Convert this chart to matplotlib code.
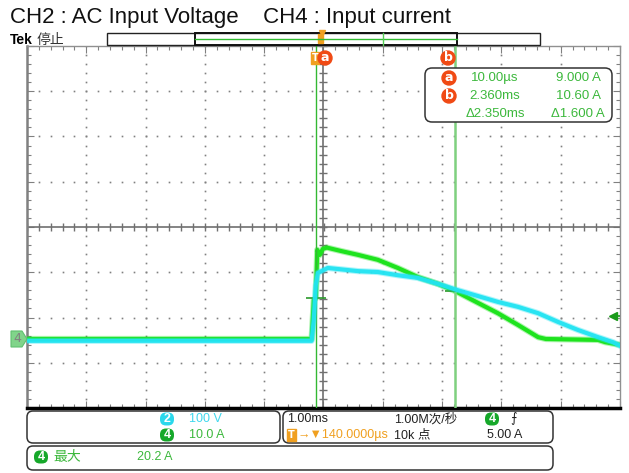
import matplotlib.pyplot as plt
from matplotlib.patches import FancyBboxPatch, Circle, Rectangle, Polygon
from matplotlib.transforms import blended_transform_factory
import numpy as np

# CH4 input current (ms, A)
t_ch4 = [-4.86, -0.06, -0.024, 0.01, 0.035, 0.078, 0.128, 0.196, 0.45, 0.72, 1.056,
         1.393, 1.73, 2.067, 2.36, 2.742, 3.08, 3.42, 3.76, 3.89, 4.77, 4.89, 5.14]
i_ch4 = [0.0, 0.0, 8.6, 9.0, 19.7, 18.6, 19.9, 20.2, 19.4, 18.6, 17.5,
         15.7, 13.7, 12.2, 10.6, 8.0, 5.7, 3.1, 0.4, 0.0, -0.2, -0.7, -1.3]

# CH2 AC input voltage (ms, V)
t_ch2 = [-4.86, -0.06, -0.024, 0.01, 0.044, 0.212, 0.72, 1.056, 1.393, 1.73,
         2.067, 2.40, 2.742, 3.08, 3.42, 3.76, 4.09, 4.43, 4.77, 5.02, 5.14]
v_ch2 = [-4, -4, 42, 119, 146, 157, 150, 148, 141, 135,
         122, 108, 95, 82, 71, 57, 38, 20, 4, -7, -15]

ch4_scale = 10.0   # A/div
ch2_scale = 100.0  # V/div
time_div = 1.0     # ms/div
t_center = 0.14    # ms (trigger position)
ground_div = -2.475
cursor_t = [0.01, 2.36]
cursor_i = [9.0, 10.6]
trig_level = 5.0
max_i = 20.2

W, H = 629, 473
L, R, T, B = 27, 620, 46, 408
fig = plt.figure(figsize=(W / 100, H / 100), dpi=100)
fig.patch.set_facecolor('white')

ax = fig.add_axes([L / W, 1 - B / H, (R - L) / W, (B - T) / H])
x0, x1 = t_center - 5 * time_div, t_center + 5 * time_div
y0, y1 = (-4 - ground_div) * ch4_scale, (4 - ground_div) * ch4_scale
ax.set_xlim(x0, x1)
ax.set_ylim(y0, y1)
ax2 = ax.twinx()
ax2.set_ylim(y0 / ch4_scale * ch2_scale, y1 / ch4_scale * ch2_scale)
ax2.axis('off')

# graticule
gcol = '#808080'
for k in range(1, 10):
    if k == 5:
        continue
    xs = x0 + k * time_div
    ys = np.arange(y0, y1 + 0.01, ch4_scale / 5)
    ax.plot([xs] * len(ys), ys, ls='none', marker='s', ms=1.2, color=gcol, mew=0)
for j in range(1, 8):
    if j == 4:
        continue
    ys = y0 + j * ch4_scale
    xs = np.arange(x0, x1 + 0.001, time_div / 5)
    ax.plot(xs, [ys] * len(xs), ls='none', marker='s', ms=1.2, color=gcol, mew=0)
xc, yc = x0 + 5 * time_div, y0 + 4 * ch4_scale
ax.axvline(xc, color='#707070', lw=1.2)
ax.axhline(yc, color='#707070', lw=1.2)
xs = np.arange(x0, x1 + 0.001, time_div / 5)
ax.plot(xs, [yc] * len(xs), ls='none', marker='|', ms=6, color='#707070', mew=1)
ys = np.arange(y0, y1 + 0.01, ch4_scale / 5)
ax.plot([xc] * len(ys), ys, ls='none', marker='_', ms=6, color='#707070', mew=1)

ax.set_xticks(np.arange(x0, x1 + 0.001, time_div))
ax.set_xticks(np.arange(x0, x1 + 0.001, time_div / 5), minor=True)
ax.set_yticks(np.arange(y0, y1 + 0.01, ch4_scale))
ax.set_yticks(np.arange(y0, y1 + 0.01, ch4_scale / 5), minor=True)
ax.tick_params(which='both', direction='in', top=True, right=True,
               labelbottom=False, labelleft=False, color=gcol, width=0.8)
ax.tick_params(which='major', length=5)
ax.tick_params(which='minor', length=3)
for s in ['top', 'right']:
    ax.spines[s].set_color('#909090')
    ax.spines[s].set_linewidth(1)
ax.spines['left'].set_color('#808080')
ax.spines['left'].set_linewidth(1.8)
ax.spines['bottom'].set_color('black')
ax.spines['bottom'].set_linewidth(2.5)

# traces
cyan = '#22e4f2'
green = '#1ee31e'
ax2.plot(t_ch2, v_ch2, color=cyan, lw=4.5, alpha=0.35, solid_joinstyle='round')
ax2.plot(t_ch2, v_ch2, color=cyan, lw=3, alpha=0.95, solid_joinstyle='round')
ax.plot(t_ch4, i_ch4, color=green, lw=4.5, alpha=0.35, solid_joinstyle='round', zorder=5)
ax.plot(t_ch4, i_ch4, color=green, lw=3, solid_joinstyle='round', zorder=5)

# cursors
ax.axvline(cursor_t[0], color='#33b833', lw=1, zorder=6)
ax.axvline(cursor_t[1], color='#7fd07f', lw=1.8, zorder=6)
ax.plot(cursor_t, cursor_i, ls='none', marker='_', ms=14, mew=1.2, color='#2a9a2a', zorder=7)
ax.plot([x1 - 0.12], [trig_level], marker='<', ms=6, color='#1a9a1a', clip_on=False, zorder=7)
ax.plot([x1 - 0.12, x1], [trig_level, trig_level], color='#1a9a1a', lw=1.2, zorder=7)

# overlay in pixel coordinates
ov = fig.add_axes([0, 0, 1, 1], zorder=10)
ov.set_xlim(0, W)
ov.set_ylim(H, 0)
ov.axis('off')
ov.patch.set_alpha(0)

ui = ['Liberation Sans Narrow', 'Liberation Sans', 'Noto Sans CJK SC', 'DejaVu Sans']
ov.text(10, 18, 'CH2 : AC Input Voltage    CH4 : Input current', fontsize=16,
        family=['Liberation Sans', 'DejaVu Sans'], va='center', ha='left', color='#111111')
ov.text(10, 40, 'Tek', fontsize=10, family=['Liberation Sans'], weight='bold', va='center')
ov.text(37, 40, '停止', fontsize=10, family=['Noto Sans CJK SC'], va='center', color='#333333')

# record bar
ov.add_patch(Rectangle((107, 33), 433, 12, fill=False, ec='#222222', lw=1))
ov.add_patch(Rectangle((195, 33), 262, 12, fill=False, ec='#111111', lw=1.4))
ov.plot([195, 457], [39, 39], color='#33bb33', lw=1)
ov.plot([383, 383], [33, 45], color='#55cc55', lw=1)
ov.add_patch(Rectangle((318, 34), 5, 9, color='#f0a020'))
ov.plot([322], [33], marker='v', ms=5, color='#f0a020')

# cursor labels at top of graticule
ov.add_patch(Rectangle((311, 52), 8, 12, color='#f0a020', zorder=3))
ov.text(315, 58, 'T', color='white', fontsize=7, ha='center', va='center', weight='bold', zorder=4)
for cx, lab in [(325, 'a'), (448, 'b')]:
    ov.add_patch(Circle((cx, 58), 7, color='#f04a14', zorder=4))
    ov.text(cx, 57.5, lab, color='white', fontsize=9, ha='center', va='center', weight='bold', zorder=5)

# readout box
ov.add_patch(FancyBboxPatch((425, 68), 187, 54, boxstyle='round,pad=0,rounding_size=7',
                            fc='white', ec='#333333', lw=1.1))
rgreen = '#3cb83c'
rows = [('a', '10.00µs', '9.000 A'), ('b', '2.360ms', '10.60 A'), (None, 'Δ2.350ms', 'Δ1.600 A')]
for n, (lab, tv, av) in enumerate(rows):
    yy = 78 + n * 18
    if lab:
        ov.add_patch(Circle((449, yy), 7, color='#f04a14'))
        ov.text(449, yy - 0.5, lab, color='white', fontsize=9, ha='center', va='center', weight='bold')
    ov.text(495, yy, tv, color=rgreen, fontsize=9.5, ha='center', va='center', family=ui)
    ov.text(578, yy, av, color=rgreen, fontsize=9.5, ha='center', va='center', family=ui)

# ground marker CH4
bt = blended_transform_factory(ov.transData, ax.transData)
gh = ch4_scale * 8 / (B - T) * 8
ov.add_patch(Polygon([(11, -gh), (22, -gh), (27, 0), (22, gh), (11, gh)], closed=True,
                     transform=bt, fc='#80d48a', ec='#60c070', lw=0.8, zorder=3))
ov.text(17, 0, '4', transform=bt, fontsize=9, color='#808080', ha='center', va='center', zorder=4)

# bottom panels
for (bx, by, bw, bh) in [(27, 411, 253, 32), (283, 411, 270, 32), (27, 446, 526, 24)]:
    ov.add_patch(FancyBboxPatch((bx, by), bw, bh, boxstyle='round,pad=0,rounding_size=6',
                                fc='white', ec='#333333', lw=1.1))


def badge(x, y, s, col):
    ov.add_patch(FancyBboxPatch((x - 7, y - 6.5), 14, 13, boxstyle='round,pad=0,rounding_size=6',
                                fc=col, ec='none'))
    ov.text(x, y, s, color='white', fontsize=9, ha='center', va='center', weight='bold', family=ui)


cgreen = '#16a82a'
badge(167, 419, '2', '#2ad8ec')
ov.text(189, 419, '100 V', color='#40d8ee', fontsize=9, va='center', family=ui)
badge(167, 435, '4', cgreen)
ov.text(189, 435, '10.0 A', color='#3cb83c', fontsize=9, va='center', family=ui)

ov.text(287, 419, '1.00ms', color='#222222', fontsize=9, va='center', family=ui)
ov.text(394, 419, '1.00M次/秒', color='#222222', fontsize=9, va='center', family=ui)
badge(492, 419, '4', cgreen)
ov.text(510, 419, '⨍', color='#222222', fontsize=9, va='center', family=['DejaVu Sans'])
ov.add_patch(Rectangle((287, 429), 9, 12, color='#f0a020'))
ov.text(291.5, 435, 'T', color='white', fontsize=7, ha='center', va='center', weight='bold')
ov.text(297, 435, '→▼140.0000µs', color='#f0a020', fontsize=9, va='center',
        family=['Liberation Sans', 'DejaVu Sans'])
ov.text(394, 435, '10k 点', color='#222222', fontsize=9, va='center', family=ui)
ov.text(487, 435, '5.00 A', color='#222222', fontsize=9, va='center', family=ui)

badge(41, 457, '4', cgreen)
ov.text(53, 457, '最大', color='#3cb83c', fontsize=10, va='center', family=['Noto Sans CJK SC'])
ov.text(137, 457, f'{max_i} A', color='#3cb83c', fontsize=9, va='center', family=ui)

fig.savefig('out.png', dpi=100)
